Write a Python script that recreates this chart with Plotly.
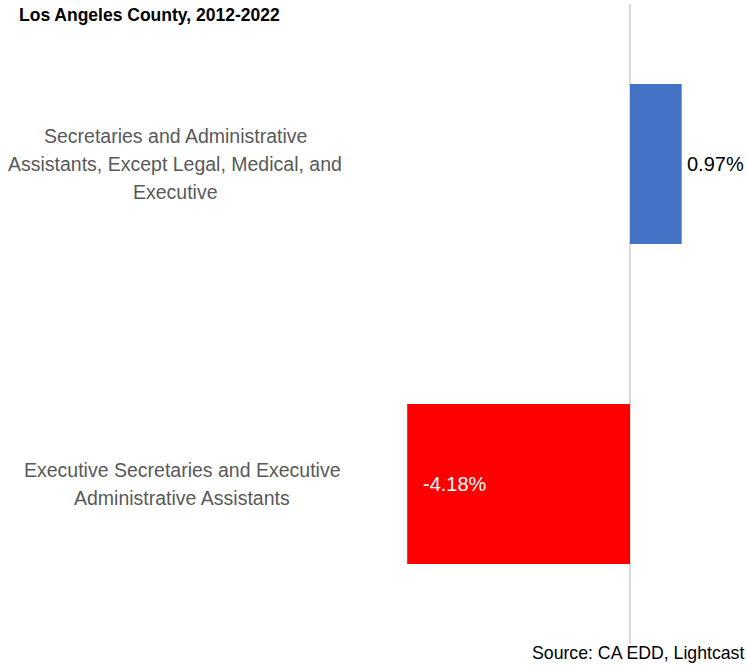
import plotly.graph_objects as go

# Occupational employment change, Los Angeles County, 2012-2022
categories = [
    "Secretaries and Administrative<br>Assistants, Except Legal, Medical, and<br>Executive",
    "Executive Secretaries and Executive<br>Administrative Assistants",
]
pct_change = [0.97, -4.18]
bar_colors = ["#4472C4", "#FF0000"]

title_text = "Los Angeles County, 2012-2022"
source_text = "Source: CA EDD, Lightcast"

FONT = "Liberation Sans Narrow, Arial Narrow, Liberation Sans, Arial, sans-serif"
W, H = 747, 669
ZERO_PX = 630      # horizontal pixel of the zero line
PX_PER_PCT = 53.3  # horizontal scale
LABEL_CENTER_PX = [175, 182]
LINE_GAP = 28

fig = go.Figure()
fig.add_trace(go.Bar(
    x=pct_change,
    y=list(range(len(categories))),
    orientation="h",
    marker=dict(color=bar_colors, line=dict(width=0)),
    width=0.5,
    hoverinfo="skip",
))

annotations = []
# category labels to the left of the plot, one annotation per wrapped line
for i, cat in enumerate(categories):
    lines = cat.split("<br>")
    n = len(lines)
    for j, line in enumerate(lines):
        annotations.append(dict(
            x=LABEL_CENTER_PX[i] / W, xref="paper", xanchor="center",
            y=i, yref="y", yanchor="middle",
            yshift=-(j - (n - 1) / 2) * LINE_GAP,
            text=line, showarrow=False,
            font=dict(family=FONT, size=19.5, color="#595959"),
        ))

# value labels
for i, v in enumerate(pct_change):
    label = f"{v:.2f}%"
    if v >= 0:
        annotations.append(dict(
            x=v, xref="x", xanchor="left", xshift=3,
            y=i, yref="y", yanchor="middle",
            text=label, showarrow=False,
            font=dict(family=FONT, size=20, color="#000000"),
        ))
    else:
        annotations.append(dict(
            x=v, xref="x", xanchor="left", xshift=14,
            y=i, yref="y", yanchor="middle", yshift=0,
            text=label, showarrow=False,
            font=dict(family=FONT, size=20, color="#FFFFFF"),
        ))

annotations.append(dict(
    x=17 / W, xref="paper", xanchor="left",
    y=1, yref="paper", yanchor="middle", yshift=-11,
    text=f"<b>{title_text}</b>", showarrow=False,
    font=dict(family=FONT, size=17.5, color="#000000"),
))
annotations.append(dict(
    x=746 / W, xref="paper", xanchor="right",
    y=0, yref="paper", yanchor="middle", yshift=-9,
    text=source_text, showarrow=False,
    font=dict(family=FONT, size=17.7, color="#000000"),
))

fig.update_layout(
    width=W, height=H,
    margin=dict(l=0, r=0, t=4, b=25),
    paper_bgcolor="white", plot_bgcolor="white",
    showlegend=False,
    xaxis=dict(
        range=[-ZERO_PX / PX_PER_PCT, (W - ZERO_PX) / PX_PER_PCT],
        showgrid=False, showticklabels=False, ticks="",
        zeroline=True, zerolinecolor="#D9D9D9", zerolinewidth=2,
        fixedrange=True,
    ),
    yaxis=dict(
        range=[len(categories) - 0.5, -0.5],
        showgrid=False, showticklabels=False, ticks="",
        zeroline=False, fixedrange=True,
    ),
    annotations=annotations,
)

fig.write_html("out.html")
